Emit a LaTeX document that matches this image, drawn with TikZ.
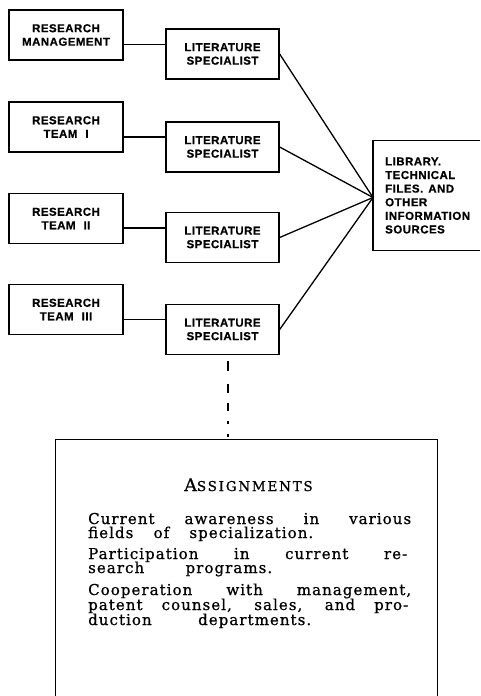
\documentclass[tikz,border=0pt]{standalone}
\usepackage{fontspec}
\usetikzlibrary{calc}
\newfontfamily\boxfont[LetterSpace=4,FakeBold=0.6]{Liberation Sans Bold}
\newfontfamily\bodyfont[LetterSpace=7,FakeBold=0.8]{DejaVu Serif}
\newfontfamily\scfont[LetterSpace=13,FakeBold=0.8]{DejaVu Serif}
\tikzset{
  orgbox/.style={draw, line width=1.3pt, minimum width=114pt, minimum height=50pt,
    inner sep=0pt, align=center, font=\boxfont\fontsize{11.5}{13.5}\selectfont},
  lsbox/.style={orgbox, minimum width=113pt},
  link/.style={line width=1.3pt},
  bodyline/.style={anchor=base west, inner sep=0pt, font=\bodyfont\fontsize{15}{15}\selectfont},
  dashlink/.style={line width=1.8pt, dash pattern=on 10pt off 13pt on 9pt off 10pt on 8pt off 10pt on 2.5pt off 10pt on 3pt off 20pt}
}
\begin{document}
\begin{tikzpicture}[x=1pt,y=-1pt]
\useasboundingbox (0,0) rectangle (480,696);
% left column
\node[orgbox] (rm) at (66,35) {RESEARCH\\MANAGEMENT};
\node[orgbox] (t1) at (66,127) {RESEARCH\\TEAM\hspace{8pt}I};
\node[orgbox] (t2) at (66,218.5) {RESEARCH\\TEAM\hspace{8pt}II};
\node[orgbox] (t3) at (66,309.5) {RESEARCH\\TEAM\hspace{8pt}III};
% literature specialists
\node[lsbox] (ls1) at (222.5,54) {LITERATURE\\SPECIALIST};
\node[lsbox] (ls2) at (222.5,147) {LITERATURE\\SPECIALIST};
\node[lsbox] (ls3) at (222.5,237.5) {LITERATURE\\SPECIALIST};
\node[lsbox] (ls4) at (222.5,329.5) {LITERATURE\\SPECIALIST};
% library
\node[anchor=west, minimum height=109pt, text width=90pt, inner xsep=12pt, inner ysep=0pt,
      align=left, font=\boxfont\fontsize{11.5}{13.6}\selectfont] (lib) at (373,195.5)
  {LIBRARY.\\TECHNICAL\\FILES.\hspace{5pt}AND\\OTHER\\INFORMATION\\SOURCES};
\coordinate (rimR) at (480,0);
\draw[line width=1.3pt] (lib.north west -| rimR) -- (lib.north west) -- (lib.south west) -- (lib.south west -| rimR);
% horizontal links
\foreach \a/\b/\m in {rm/ls1/m1, t1/ls2/m2, t2/ls3/m3, t3/ls4/m4}{
  \coordinate (\m) at ($(\a.center)!.5!(\b.center)$);
  \draw[link] (\a.east |- \m) -- (\b.west |- \m);
}
% links to library
\foreach \s in {ls1,ls2,ls3,ls4}{
  \draw[link] (\s.east) -- ([yshift=-2pt]lib.west);
}
% assignments box
\node[minimum width=381pt, minimum height=256pt, inner sep=0pt] (asg) at (246.5,568) {};
\draw[line width=1pt] (asg.south west) -- (asg.north west) -- (asg.north east) -- (asg.south east);
\draw[dashlink] ([xshift=5.5pt,yshift=-6pt]ls4.south) -- ([xshift=5.5pt]ls4.south |- asg.north);
% assignments text
\node[anchor=base, inner sep=0pt] (ttl) at (248.5,491)
  {\scfont\fontsize{17.5}{17}\selectfont A\fontsize{13.5}{13}\selectfont SSIGNMENTS};
\node[bodyline] (b1) at (88,524) {\makebox[323pt][s]{Current awareness in various}};
\node[bodyline] (b2) at (88,538) {\makebox[225pt][s]{fields of specialization.}};
\node[bodyline] (b3) at (88,559) {\makebox[319pt][s]{Participation in current re-}};
\node[bodyline] (b4) at (88,573) {\makebox[184pt][s]{search programs.}};
\node[bodyline] (b5) at (88,595) {\makebox[323pt][s]{Cooperation with management,}};
\node[bodyline] (b6) at (88,610) {\makebox[320pt][s]{patent counsel, sales, and pro-}};
\node[bodyline] (b7) at (88,625) {\makebox[223pt][s]{duction departments.}};
\end{tikzpicture}
\end{document}
